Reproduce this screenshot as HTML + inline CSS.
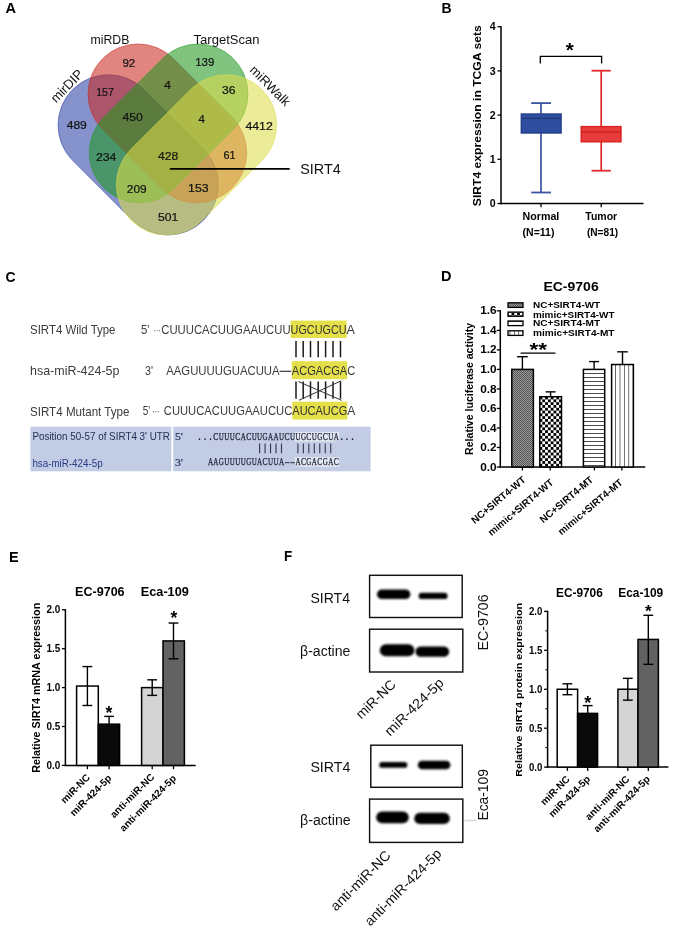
<!DOCTYPE html>
<html><head><meta charset="utf-8"><style>
html,body{margin:0;padding:0;background:#fff;}
svg{display:block;will-change:transform;}
</style></head><body>
<svg width="673" height="929" viewBox="0 0 673 929" font-family="Liberation Sans, sans-serif">
<rect width="673" height="929" fill="#fff"/>
<text x="5.50" y="13.20" font-size="14.5" font-family="Liberation Sans" font-weight="bold">A</text>
<text x="441.40" y="12.50" font-size="14" font-family="Liberation Sans" font-weight="bold">B</text>
<text x="5.40" y="281.60" font-size="14" font-family="Liberation Sans" font-weight="bold">C</text>
<text x="441.10" y="281.30" font-size="14.5" font-family="Liberation Sans" font-weight="bold">D</text>
<text x="8.90" y="561.50" font-size="14.5" font-family="Liberation Sans" font-weight="bold">E</text>
<text x="284.10" y="561.00" font-size="14.5" font-family="Liberation Sans" font-weight="bold" textLength="8.20" lengthAdjust="spacingAndGlyphs">F</text>
<rect x="-92.50" y="-50.30" width="185.00" height="100.60" rx="50.3" ry="50.3" transform="translate(138.15 154.85) rotate(45)" fill="rgb(41,64,164)" fill-opacity="0.57" stroke="rgb(41,64,164)" stroke-opacity="0.57" stroke-width="0.9"/>
<rect x="-91.50" y="-50.00" width="183.00" height="100.00" rx="50.0" ry="50.0" transform="translate(167.35 123.35) rotate(45)" fill="rgb(201,41,32)" fill-opacity="0.57" stroke="rgb(201,41,32)" stroke-opacity="0.57" stroke-width="0.9"/>
<rect x="-91.50" y="-50.00" width="183.00" height="100.00" rx="50.0" ry="50.0" transform="translate(168.65 123.35) rotate(-45)" fill="rgb(32,151,32)" fill-opacity="0.57" stroke="rgb(32,151,32)" stroke-opacity="0.57" stroke-width="0.9"/>
<rect x="-92.50" y="-50.30" width="185.00" height="100.60" rx="50.3" ry="50.3" transform="translate(196.5 154.85) rotate(-45)" fill="rgb(220,220,74)" fill-opacity="0.57" stroke="rgb(220,220,74)" stroke-opacity="0.57" stroke-width="0.9"/>
<text x="122.40" y="66.90" font-size="11.6" font-family="Liberation Sans" fill="#111" textLength="12.90" lengthAdjust="spacingAndGlyphs" stroke="#111" stroke-width="0.2">92</text>
<text x="96.20" y="95.50" font-size="11.6" font-family="Liberation Sans" fill="#111" textLength="17.70" lengthAdjust="spacingAndGlyphs" stroke="#111" stroke-width="0.2">157</text>
<text x="66.70" y="129.40" font-size="11.6" font-family="Liberation Sans" fill="#111" textLength="20.10" lengthAdjust="spacingAndGlyphs" stroke="#111" stroke-width="0.2">489</text>
<text x="122.40" y="121.30" font-size="11.6" font-family="Liberation Sans" fill="#111" textLength="20.40" lengthAdjust="spacingAndGlyphs" stroke="#111" stroke-width="0.2">450</text>
<text x="195.20" y="66.10" font-size="11.6" font-family="Liberation Sans" fill="#111" textLength="19.10" lengthAdjust="spacingAndGlyphs" stroke="#111" stroke-width="0.2">139</text>
<text x="164.10" y="88.70" font-size="11.6" font-family="Liberation Sans" fill="#111" textLength="7.00" lengthAdjust="spacingAndGlyphs" stroke="#111" stroke-width="0.2">4</text>
<text x="222.00" y="93.50" font-size="11.6" font-family="Liberation Sans" fill="#111" textLength="13.50" lengthAdjust="spacingAndGlyphs" stroke="#111" stroke-width="0.2">36</text>
<text x="198.60" y="123.40" font-size="11.6" font-family="Liberation Sans" fill="#111" textLength="6.40" lengthAdjust="spacingAndGlyphs" stroke="#111" stroke-width="0.2">4</text>
<text x="245.40" y="129.60" font-size="11.6" font-family="Liberation Sans" fill="#111" textLength="27.40" lengthAdjust="spacingAndGlyphs" stroke="#111" stroke-width="0.2">4412</text>
<text x="157.90" y="159.80" font-size="11.6" font-family="Liberation Sans" fill="#111" textLength="20.30" lengthAdjust="spacingAndGlyphs" stroke="#111" stroke-width="0.2">428</text>
<text x="223.40" y="159.30" font-size="11.6" font-family="Liberation Sans" fill="#111" textLength="12.10" lengthAdjust="spacingAndGlyphs" stroke="#111" stroke-width="0.2">61</text>
<text x="188.10" y="192.30" font-size="11.6" font-family="Liberation Sans" fill="#111" textLength="20.60" lengthAdjust="spacingAndGlyphs" stroke="#111" stroke-width="0.2">153</text>
<text x="157.90" y="220.50" font-size="11.6" font-family="Liberation Sans" fill="#111" textLength="20.30" lengthAdjust="spacingAndGlyphs" stroke="#111" stroke-width="0.2">501</text>
<text x="95.90" y="161.00" font-size="11.6" font-family="Liberation Sans" fill="#111" textLength="20.50" lengthAdjust="spacingAndGlyphs" stroke="#111" stroke-width="0.2">234</text>
<text x="126.80" y="192.60" font-size="11.6" font-family="Liberation Sans" fill="#111" textLength="19.80" lengthAdjust="spacingAndGlyphs" stroke="#111" stroke-width="0.2">209</text>
<text x="90.60" y="43.70" font-size="12.2" font-family="Liberation Sans" fill="#111" textLength="38.80" lengthAdjust="spacingAndGlyphs">miRDB</text>
<text x="193.60" y="43.70" font-size="12.2" font-family="Liberation Sans" fill="#111" textLength="66.00" lengthAdjust="spacingAndGlyphs">TargetScan</text>
<text x="56.20" y="103.60" font-size="13.4" font-family="Liberation Sans" fill="#111" textLength="40.00" lengthAdjust="spacingAndGlyphs" transform="rotate(-46 56.20 103.60)">mirDIP</text>
<text x="249.00" y="70.80" font-size="13.0" font-family="Liberation Sans" fill="#111" textLength="51.00" lengthAdjust="spacingAndGlyphs" transform="rotate(45 249.00 70.80)">miRWalk</text>
<line x1="169.80" y1="168.90" x2="289.70" y2="168.90" stroke="#000" stroke-width="1.6"/>
<text x="300.30" y="174.30" font-size="14.8" font-family="Liberation Sans" fill="#111" textLength="40.40" lengthAdjust="spacingAndGlyphs">SIRT4</text>
<line x1="501.00" y1="26.00" x2="501.00" y2="204.20" stroke="#000" stroke-width="1.5"/>
<line x1="500.30" y1="203.50" x2="643.50" y2="203.50" stroke="#000" stroke-width="1.5"/>
<line x1="497.50" y1="203.50" x2="501.00" y2="203.50" stroke="#000" stroke-width="1.3"/>
<text x="495.60" y="207.10" font-size="10.6" font-family="Liberation Sans" font-weight="bold" text-anchor="end">0</text>
<line x1="497.50" y1="159.30" x2="501.00" y2="159.30" stroke="#000" stroke-width="1.3"/>
<text x="495.60" y="162.90" font-size="10.6" font-family="Liberation Sans" font-weight="bold" text-anchor="end">1</text>
<line x1="497.50" y1="115.10" x2="501.00" y2="115.10" stroke="#000" stroke-width="1.3"/>
<text x="495.60" y="118.70" font-size="10.6" font-family="Liberation Sans" font-weight="bold" text-anchor="end">2</text>
<line x1="497.50" y1="70.90" x2="501.00" y2="70.90" stroke="#000" stroke-width="1.3"/>
<text x="495.60" y="74.50" font-size="10.6" font-family="Liberation Sans" font-weight="bold" text-anchor="end">3</text>
<line x1="497.50" y1="26.70" x2="501.00" y2="26.70" stroke="#000" stroke-width="1.3"/>
<text x="495.60" y="30.30" font-size="10.6" font-family="Liberation Sans" font-weight="bold" text-anchor="end">4</text>
<line x1="541.00" y1="203.50" x2="541.00" y2="207.30" stroke="#000" stroke-width="1.3"/>
<line x1="601.20" y1="203.50" x2="601.20" y2="207.30" stroke="#000" stroke-width="1.3"/>
<line x1="541.00" y1="103.10" x2="541.00" y2="192.50" stroke="#3a55a0" stroke-width="1.7"/>
<line x1="531.20" y1="103.10" x2="551.00" y2="103.10" stroke="#3a55a0" stroke-width="1.8"/>
<line x1="531.20" y1="192.50" x2="551.00" y2="192.50" stroke="#3a55a0" stroke-width="1.8"/>
<rect x="521.30" y="114.00" width="39.80" height="19.00" fill="#2e4d9e" stroke="#243f8c" stroke-width="1.4"/>
<line x1="521.30" y1="118.30" x2="561.10" y2="118.30" stroke="#22387a" stroke-width="1.2"/>
<line x1="601.20" y1="70.70" x2="601.20" y2="170.70" stroke="#e02a2a" stroke-width="1.7"/>
<line x1="591.50" y1="70.70" x2="610.80" y2="70.70" stroke="#e02a2a" stroke-width="1.8"/>
<line x1="591.50" y1="170.70" x2="610.80" y2="170.70" stroke="#e02a2a" stroke-width="1.8"/>
<rect x="581.20" y="126.60" width="39.80" height="15.20" fill="#e83b3b" stroke="#dc2222" stroke-width="1.4"/>
<line x1="581.20" y1="132.10" x2="621.00" y2="132.10" stroke="#c82020" stroke-width="1.2"/>
<polyline points="540.3,63.6 540.3,56.4 601.6,56.4 601.6,63.6" fill="none" stroke="#000" stroke-width="1.3"/>
<text x="569.80" y="57.00" font-size="20.5" font-family="Liberation Sans" font-weight="bold" text-anchor="middle">*</text>
<text x="481.00" y="115.70" font-size="11" font-family="Liberation Sans" font-weight="bold" text-anchor="middle" textLength="181.00" lengthAdjust="spacingAndGlyphs" transform="rotate(-90 481.00 115.70)">SIRT4 expression in TCGA sets</text>
<text x="522.60" y="220.10" font-size="10.8" font-family="Liberation Sans" font-weight="bold" textLength="36.70" lengthAdjust="spacingAndGlyphs">Normal</text>
<text x="522.60" y="235.80" font-size="10.8" font-family="Liberation Sans" font-weight="bold" textLength="31.80" lengthAdjust="spacingAndGlyphs">(N=11)</text>
<text x="585.30" y="220.10" font-size="10.8" font-family="Liberation Sans" font-weight="bold" textLength="31.90" lengthAdjust="spacingAndGlyphs">Tumor</text>
<text x="586.90" y="235.80" font-size="10.8" font-family="Liberation Sans" font-weight="bold" textLength="31.30" lengthAdjust="spacingAndGlyphs">(N=81)</text>
<text x="30.00" y="334.00" font-size="13.2" font-family="Liberation Sans" fill="#3c3c3c" textLength="85.50" lengthAdjust="spacingAndGlyphs">SIRT4 Wild Type</text>
<text x="30.00" y="374.60" font-size="13.2" font-family="Liberation Sans" fill="#3c3c3c" textLength="89.50" lengthAdjust="spacingAndGlyphs">hsa-miR-424-5p</text>
<text x="30.00" y="415.60" font-size="13.2" font-family="Liberation Sans" fill="#3c3c3c" textLength="99.50" lengthAdjust="spacingAndGlyphs">SIRT4 Mutant Type</text>
<rect x="290.60" y="320.60" width="56.00" height="17.40" fill="#e5e04a"/>
<rect x="291.80" y="361.20" width="55.40" height="18.00" fill="#e5e04a"/>
<rect x="292.30" y="401.70" width="55.00" height="17.80" fill="#e5e04a"/>
<text x="140.90" y="333.60" font-size="12.9" font-family="Liberation Sans" fill="#3c3c3c" textLength="8.50" lengthAdjust="spacingAndGlyphs">5'</text>
<text x="153.80" y="333.60" font-size="12.9" font-family="Liberation Sans" fill="#3c3c3c" textLength="6.80" lengthAdjust="spacingAndGlyphs">···</text>
<text x="161.30" y="333.60" font-size="12.9" font-family="Liberation Sans" fill="#3c3c3c" textLength="129.30" lengthAdjust="spacingAndGlyphs">CUUUCACUUGAAUCUU</text>
<text x="290.60" y="333.60" font-size="12.9" font-family="Liberation Sans" fill="#333" textLength="56.00" lengthAdjust="spacingAndGlyphs">UGCUGCU</text>
<text x="346.60" y="333.60" font-size="12.9" font-family="Liberation Sans" fill="#3c3c3c" textLength="8.40" lengthAdjust="spacingAndGlyphs">A</text>
<text x="145.00" y="374.70" font-size="12.9" font-family="Liberation Sans" fill="#3c3c3c" textLength="8.00" lengthAdjust="spacingAndGlyphs">3'</text>
<text x="166.20" y="374.70" font-size="12.9" font-family="Liberation Sans" fill="#3c3c3c" textLength="113.40" lengthAdjust="spacingAndGlyphs">AAGUUUUGUACUUA</text>
<line x1="279.60" y1="371.30" x2="291.40" y2="371.30" stroke="#3a3a3a" stroke-width="1.2"/>
<text x="291.80" y="374.70" font-size="12.9" font-family="Liberation Sans" fill="#333" textLength="55.40" lengthAdjust="spacingAndGlyphs">ACGACGA</text>
<text x="347.20" y="374.70" font-size="12.9" font-family="Liberation Sans" fill="#3c3c3c" textLength="8.00" lengthAdjust="spacingAndGlyphs">C</text>
<text x="142.80" y="415.30" font-size="12.9" font-family="Liberation Sans" fill="#3c3c3c" textLength="7.50" lengthAdjust="spacingAndGlyphs">5'</text>
<text x="151.90" y="415.30" font-size="12.9" font-family="Liberation Sans" fill="#3c3c3c" textLength="7.70" lengthAdjust="spacingAndGlyphs">···</text>
<text x="163.80" y="415.30" font-size="12.9" font-family="Liberation Sans" fill="#3c3c3c" textLength="128.50" lengthAdjust="spacingAndGlyphs">CUUUCACUUGAAUCUC</text>
<text x="292.30" y="415.30" font-size="12.9" font-family="Liberation Sans" fill="#333" textLength="55.00" lengthAdjust="spacingAndGlyphs">AUCAUCG</text>
<text x="347.30" y="415.30" font-size="12.9" font-family="Liberation Sans" fill="#3c3c3c" textLength="8.00" lengthAdjust="spacingAndGlyphs">A</text>
<line x1="296.00" y1="341.00" x2="296.00" y2="357.30" stroke="#1a1a1a" stroke-width="1.5"/>
<line x1="296.00" y1="381.40" x2="296.00" y2="398.70" stroke="#1a1a1a" stroke-width="1.5"/>
<line x1="303.20" y1="341.00" x2="303.20" y2="357.30" stroke="#1a1a1a" stroke-width="1.5"/>
<line x1="303.20" y1="381.40" x2="303.20" y2="398.70" stroke="#1a1a1a" stroke-width="1.5"/>
<line x1="310.50" y1="341.00" x2="310.50" y2="357.30" stroke="#1a1a1a" stroke-width="1.5"/>
<line x1="310.50" y1="381.40" x2="310.50" y2="398.70" stroke="#1a1a1a" stroke-width="1.5"/>
<line x1="318.20" y1="341.00" x2="318.20" y2="357.30" stroke="#1a1a1a" stroke-width="1.5"/>
<line x1="318.20" y1="381.40" x2="318.20" y2="398.70" stroke="#1a1a1a" stroke-width="1.5"/>
<line x1="325.60" y1="341.00" x2="325.60" y2="357.30" stroke="#1a1a1a" stroke-width="1.5"/>
<line x1="325.60" y1="381.40" x2="325.60" y2="398.70" stroke="#1a1a1a" stroke-width="1.5"/>
<line x1="333.00" y1="341.00" x2="333.00" y2="357.30" stroke="#1a1a1a" stroke-width="1.5"/>
<line x1="333.00" y1="381.40" x2="333.00" y2="398.70" stroke="#1a1a1a" stroke-width="1.5"/>
<line x1="340.50" y1="341.00" x2="340.50" y2="357.30" stroke="#1a1a1a" stroke-width="1.5"/>
<line x1="340.50" y1="381.40" x2="340.50" y2="398.70" stroke="#1a1a1a" stroke-width="1.5"/>
<line x1="298.50" y1="381.60" x2="341.70" y2="400.30" stroke="#333" stroke-width="1.0"/>
<line x1="299.00" y1="400.30" x2="341.20" y2="380.80" stroke="#333" stroke-width="1.0"/>
<rect x="30.40" y="426.70" width="141.00" height="44.60" fill="#c2cce4"/>
<rect x="173.20" y="426.70" width="197.40" height="44.60" fill="#c2cce4"/>
<text x="32.40" y="439.60" font-size="11.3" font-family="Liberation Sans" fill="#262f55" textLength="137.60" lengthAdjust="spacingAndGlyphs">Position 50-57 of SIRT4 3' UTR</text>
<text x="32.40" y="467.30" font-size="11.3" font-family="Liberation Sans" fill="#2a3a85" textLength="70.20" lengthAdjust="spacingAndGlyphs">hsa-miR-424-5p</text>
<text x="175.00" y="440.00" font-size="10.5" font-family="Liberation Serif" fill="#262f55" textLength="8.00" lengthAdjust="spacingAndGlyphs" stroke="#262f55" stroke-width="0.2">5'</text>
<text x="175.00" y="465.50" font-size="10.5" font-family="Liberation Serif" fill="#262f55" textLength="8.00" lengthAdjust="spacingAndGlyphs" stroke="#262f55" stroke-width="0.2">3'</text>
<rect x="294.86" y="432.00" width="44.26" height="9.50" fill="#e4e8f2"/>
<rect x="294.86" y="457.20" width="44.26" height="9.50" fill="#e4e8f2"/>
<text x="199.44" y="440.20" font-size="10" font-family="Liberation Serif" fill="#1c1f33" text-anchor="middle" font-weight="bold">.</text>
<text x="204.91" y="440.20" font-size="10" font-family="Liberation Serif" fill="#1c1f33" text-anchor="middle" font-weight="bold">.</text>
<text x="210.38" y="440.20" font-size="10" font-family="Liberation Serif" fill="#1c1f33" text-anchor="middle" font-weight="bold">.</text>
<text x="213.36" y="440.20" font-size="9.6" font-family="Liberation Serif" fill="#1c1f33" textLength="5.07" lengthAdjust="spacingAndGlyphs" stroke="#1c1f33" stroke-width="0.25">C</text>
<text x="218.83" y="440.20" font-size="9.6" font-family="Liberation Serif" fill="#1c1f33" textLength="5.07" lengthAdjust="spacingAndGlyphs" stroke="#1c1f33" stroke-width="0.25">U</text>
<text x="224.30" y="440.20" font-size="9.6" font-family="Liberation Serif" fill="#1c1f33" textLength="5.07" lengthAdjust="spacingAndGlyphs" stroke="#1c1f33" stroke-width="0.25">U</text>
<text x="229.77" y="440.20" font-size="9.6" font-family="Liberation Serif" fill="#1c1f33" textLength="5.07" lengthAdjust="spacingAndGlyphs" stroke="#1c1f33" stroke-width="0.25">U</text>
<text x="235.24" y="440.20" font-size="9.6" font-family="Liberation Serif" fill="#1c1f33" textLength="5.07" lengthAdjust="spacingAndGlyphs" stroke="#1c1f33" stroke-width="0.25">C</text>
<text x="240.71" y="440.20" font-size="9.6" font-family="Liberation Serif" fill="#1c1f33" textLength="5.07" lengthAdjust="spacingAndGlyphs" stroke="#1c1f33" stroke-width="0.25">A</text>
<text x="246.18" y="440.20" font-size="9.6" font-family="Liberation Serif" fill="#1c1f33" textLength="5.07" lengthAdjust="spacingAndGlyphs" stroke="#1c1f33" stroke-width="0.25">C</text>
<text x="251.65" y="440.20" font-size="9.6" font-family="Liberation Serif" fill="#1c1f33" textLength="5.07" lengthAdjust="spacingAndGlyphs" stroke="#1c1f33" stroke-width="0.25">U</text>
<text x="257.12" y="440.20" font-size="9.6" font-family="Liberation Serif" fill="#1c1f33" textLength="5.07" lengthAdjust="spacingAndGlyphs" stroke="#1c1f33" stroke-width="0.25">U</text>
<text x="262.59" y="440.20" font-size="9.6" font-family="Liberation Serif" fill="#1c1f33" textLength="5.07" lengthAdjust="spacingAndGlyphs" stroke="#1c1f33" stroke-width="0.25">G</text>
<text x="268.06" y="440.20" font-size="9.6" font-family="Liberation Serif" fill="#1c1f33" textLength="5.07" lengthAdjust="spacingAndGlyphs" stroke="#1c1f33" stroke-width="0.25">A</text>
<text x="273.53" y="440.20" font-size="9.6" font-family="Liberation Serif" fill="#1c1f33" textLength="5.07" lengthAdjust="spacingAndGlyphs" stroke="#1c1f33" stroke-width="0.25">A</text>
<text x="279.00" y="440.20" font-size="9.6" font-family="Liberation Serif" fill="#1c1f33" textLength="5.07" lengthAdjust="spacingAndGlyphs" stroke="#1c1f33" stroke-width="0.25">U</text>
<text x="284.47" y="440.20" font-size="9.6" font-family="Liberation Serif" fill="#1c1f33" textLength="5.07" lengthAdjust="spacingAndGlyphs" stroke="#1c1f33" stroke-width="0.25">C</text>
<text x="289.94" y="440.20" font-size="9.6" font-family="Liberation Serif" fill="#1c1f33" textLength="5.07" lengthAdjust="spacingAndGlyphs" stroke="#1c1f33" stroke-width="0.25">U</text>
<text x="295.41" y="440.20" font-size="9.6" font-family="Liberation Serif" fill="#1c1f33" textLength="5.07" lengthAdjust="spacingAndGlyphs" stroke="#1c1f33" stroke-width="0.25">U</text>
<text x="300.88" y="440.20" font-size="9.6" font-family="Liberation Serif" fill="#1c1f33" textLength="5.07" lengthAdjust="spacingAndGlyphs" stroke="#1c1f33" stroke-width="0.25">G</text>
<text x="306.35" y="440.20" font-size="9.6" font-family="Liberation Serif" fill="#1c1f33" textLength="5.07" lengthAdjust="spacingAndGlyphs" stroke="#1c1f33" stroke-width="0.25">C</text>
<text x="311.82" y="440.20" font-size="9.6" font-family="Liberation Serif" fill="#1c1f33" textLength="5.07" lengthAdjust="spacingAndGlyphs" stroke="#1c1f33" stroke-width="0.25">U</text>
<text x="317.29" y="440.20" font-size="9.6" font-family="Liberation Serif" fill="#1c1f33" textLength="5.07" lengthAdjust="spacingAndGlyphs" stroke="#1c1f33" stroke-width="0.25">G</text>
<text x="322.76" y="440.20" font-size="9.6" font-family="Liberation Serif" fill="#1c1f33" textLength="5.07" lengthAdjust="spacingAndGlyphs" stroke="#1c1f33" stroke-width="0.25">C</text>
<text x="328.23" y="440.20" font-size="9.6" font-family="Liberation Serif" fill="#1c1f33" textLength="5.07" lengthAdjust="spacingAndGlyphs" stroke="#1c1f33" stroke-width="0.25">U</text>
<text x="333.70" y="440.20" font-size="9.6" font-family="Liberation Serif" fill="#1c1f33" textLength="5.07" lengthAdjust="spacingAndGlyphs" stroke="#1c1f33" stroke-width="0.25">A</text>
<text x="341.65" y="440.20" font-size="10" font-family="Liberation Serif" fill="#1c1f33" text-anchor="middle" font-weight="bold">.</text>
<text x="347.12" y="440.20" font-size="10" font-family="Liberation Serif" fill="#1c1f33" text-anchor="middle" font-weight="bold">.</text>
<text x="352.60" y="440.20" font-size="10" font-family="Liberation Serif" fill="#1c1f33" text-anchor="middle" font-weight="bold">.</text>
<text x="207.89" y="465.30" font-size="9.6" font-family="Liberation Serif" fill="#1c1f33" textLength="5.07" lengthAdjust="spacingAndGlyphs" stroke="#1c1f33" stroke-width="0.25">A</text>
<text x="213.36" y="465.30" font-size="9.6" font-family="Liberation Serif" fill="#1c1f33" textLength="5.07" lengthAdjust="spacingAndGlyphs" stroke="#1c1f33" stroke-width="0.25">A</text>
<text x="218.83" y="465.30" font-size="9.6" font-family="Liberation Serif" fill="#1c1f33" textLength="5.07" lengthAdjust="spacingAndGlyphs" stroke="#1c1f33" stroke-width="0.25">G</text>
<text x="224.30" y="465.30" font-size="9.6" font-family="Liberation Serif" fill="#1c1f33" textLength="5.07" lengthAdjust="spacingAndGlyphs" stroke="#1c1f33" stroke-width="0.25">U</text>
<text x="229.77" y="465.30" font-size="9.6" font-family="Liberation Serif" fill="#1c1f33" textLength="5.07" lengthAdjust="spacingAndGlyphs" stroke="#1c1f33" stroke-width="0.25">U</text>
<text x="235.24" y="465.30" font-size="9.6" font-family="Liberation Serif" fill="#1c1f33" textLength="5.07" lengthAdjust="spacingAndGlyphs" stroke="#1c1f33" stroke-width="0.25">U</text>
<text x="240.71" y="465.30" font-size="9.6" font-family="Liberation Serif" fill="#1c1f33" textLength="5.07" lengthAdjust="spacingAndGlyphs" stroke="#1c1f33" stroke-width="0.25">U</text>
<text x="246.18" y="465.30" font-size="9.6" font-family="Liberation Serif" fill="#1c1f33" textLength="5.07" lengthAdjust="spacingAndGlyphs" stroke="#1c1f33" stroke-width="0.25">G</text>
<text x="251.65" y="465.30" font-size="9.6" font-family="Liberation Serif" fill="#1c1f33" textLength="5.07" lengthAdjust="spacingAndGlyphs" stroke="#1c1f33" stroke-width="0.25">U</text>
<text x="257.12" y="465.30" font-size="9.6" font-family="Liberation Serif" fill="#1c1f33" textLength="5.07" lengthAdjust="spacingAndGlyphs" stroke="#1c1f33" stroke-width="0.25">A</text>
<text x="262.59" y="465.30" font-size="9.6" font-family="Liberation Serif" fill="#1c1f33" textLength="5.07" lengthAdjust="spacingAndGlyphs" stroke="#1c1f33" stroke-width="0.25">C</text>
<text x="268.06" y="465.30" font-size="9.6" font-family="Liberation Serif" fill="#1c1f33" textLength="5.07" lengthAdjust="spacingAndGlyphs" stroke="#1c1f33" stroke-width="0.25">U</text>
<text x="273.53" y="465.30" font-size="9.6" font-family="Liberation Serif" fill="#1c1f33" textLength="5.07" lengthAdjust="spacingAndGlyphs" stroke="#1c1f33" stroke-width="0.25">U</text>
<text x="279.00" y="465.30" font-size="9.6" font-family="Liberation Serif" fill="#1c1f33" textLength="5.07" lengthAdjust="spacingAndGlyphs" stroke="#1c1f33" stroke-width="0.25">A</text>
<line x1="284.82" y1="462.70" x2="289.49" y2="462.70" stroke="#1c1f33" stroke-width="0.9"/>
<line x1="290.29" y1="462.70" x2="294.96" y2="462.70" stroke="#1c1f33" stroke-width="0.9"/>
<text x="295.41" y="465.30" font-size="9.6" font-family="Liberation Serif" fill="#1c1f33" textLength="5.07" lengthAdjust="spacingAndGlyphs" stroke="#1c1f33" stroke-width="0.25">A</text>
<text x="300.88" y="465.30" font-size="9.6" font-family="Liberation Serif" fill="#1c1f33" textLength="5.07" lengthAdjust="spacingAndGlyphs" stroke="#1c1f33" stroke-width="0.25">C</text>
<text x="306.35" y="465.30" font-size="9.6" font-family="Liberation Serif" fill="#1c1f33" textLength="5.07" lengthAdjust="spacingAndGlyphs" stroke="#1c1f33" stroke-width="0.25">G</text>
<text x="311.82" y="465.30" font-size="9.6" font-family="Liberation Serif" fill="#1c1f33" textLength="5.07" lengthAdjust="spacingAndGlyphs" stroke="#1c1f33" stroke-width="0.25">A</text>
<text x="317.29" y="465.30" font-size="9.6" font-family="Liberation Serif" fill="#1c1f33" textLength="5.07" lengthAdjust="spacingAndGlyphs" stroke="#1c1f33" stroke-width="0.25">C</text>
<text x="322.76" y="465.30" font-size="9.6" font-family="Liberation Serif" fill="#1c1f33" textLength="5.07" lengthAdjust="spacingAndGlyphs" stroke="#1c1f33" stroke-width="0.25">G</text>
<text x="328.23" y="465.30" font-size="9.6" font-family="Liberation Serif" fill="#1c1f33" textLength="5.07" lengthAdjust="spacingAndGlyphs" stroke="#1c1f33" stroke-width="0.25">A</text>
<text x="333.70" y="465.30" font-size="9.6" font-family="Liberation Serif" fill="#1c1f33" textLength="5.07" lengthAdjust="spacingAndGlyphs" stroke="#1c1f33" stroke-width="0.25">C</text>
<line x1="259.61" y1="443.50" x2="259.61" y2="453.20" stroke="#2e3550" stroke-width="1.1"/>
<line x1="265.07" y1="443.50" x2="265.07" y2="453.20" stroke="#2e3550" stroke-width="1.1"/>
<line x1="270.55" y1="443.50" x2="270.55" y2="453.20" stroke="#2e3550" stroke-width="1.1"/>
<line x1="276.01" y1="443.50" x2="276.01" y2="453.20" stroke="#2e3550" stroke-width="1.1"/>
<line x1="281.49" y1="443.50" x2="281.49" y2="453.20" stroke="#2e3550" stroke-width="1.1"/>
<line x1="297.89" y1="443.50" x2="297.89" y2="453.20" stroke="#2e3550" stroke-width="1.1"/>
<line x1="303.37" y1="443.50" x2="303.37" y2="453.20" stroke="#2e3550" stroke-width="1.1"/>
<line x1="308.83" y1="443.50" x2="308.83" y2="453.20" stroke="#2e3550" stroke-width="1.1"/>
<line x1="314.31" y1="443.50" x2="314.31" y2="453.20" stroke="#2e3550" stroke-width="1.1"/>
<line x1="319.77" y1="443.50" x2="319.77" y2="453.20" stroke="#2e3550" stroke-width="1.1"/>
<line x1="325.25" y1="443.50" x2="325.25" y2="453.20" stroke="#2e3550" stroke-width="1.1"/>
<line x1="330.72" y1="443.50" x2="330.72" y2="453.20" stroke="#2e3550" stroke-width="1.1"/>
<text x="543.40" y="290.50" font-size="12" font-family="Liberation Sans" font-weight="bold" textLength="55.30" lengthAdjust="spacingAndGlyphs">EC-9706</text>
<line x1="500.30" y1="310.14" x2="500.30" y2="467.70" stroke="#000" stroke-width="1.5"/>
<line x1="499.60" y1="467.00" x2="645.20" y2="467.00" stroke="#000" stroke-width="1.5"/>
<line x1="496.80" y1="467.00" x2="500.30" y2="467.00" stroke="#000" stroke-width="1.3"/>
<text x="496.60" y="470.60" font-size="10.3" font-family="Liberation Sans" font-weight="bold" text-anchor="end" textLength="16.40" lengthAdjust="spacingAndGlyphs">0.0</text>
<line x1="496.80" y1="447.48" x2="500.30" y2="447.48" stroke="#000" stroke-width="1.3"/>
<text x="496.60" y="451.08" font-size="10.3" font-family="Liberation Sans" font-weight="bold" text-anchor="end" textLength="16.40" lengthAdjust="spacingAndGlyphs">0.2</text>
<line x1="496.80" y1="427.96" x2="500.30" y2="427.96" stroke="#000" stroke-width="1.3"/>
<text x="496.60" y="431.56" font-size="10.3" font-family="Liberation Sans" font-weight="bold" text-anchor="end" textLength="16.40" lengthAdjust="spacingAndGlyphs">0.4</text>
<line x1="496.80" y1="408.44" x2="500.30" y2="408.44" stroke="#000" stroke-width="1.3"/>
<text x="496.60" y="412.04" font-size="10.3" font-family="Liberation Sans" font-weight="bold" text-anchor="end" textLength="16.40" lengthAdjust="spacingAndGlyphs">0.6</text>
<line x1="496.80" y1="388.92" x2="500.30" y2="388.92" stroke="#000" stroke-width="1.3"/>
<text x="496.60" y="392.52" font-size="10.3" font-family="Liberation Sans" font-weight="bold" text-anchor="end" textLength="16.40" lengthAdjust="spacingAndGlyphs">0.8</text>
<line x1="496.80" y1="369.40" x2="500.30" y2="369.40" stroke="#000" stroke-width="1.3"/>
<text x="496.60" y="373.00" font-size="10.3" font-family="Liberation Sans" font-weight="bold" text-anchor="end" textLength="16.40" lengthAdjust="spacingAndGlyphs">1.0</text>
<line x1="496.80" y1="349.88" x2="500.30" y2="349.88" stroke="#000" stroke-width="1.3"/>
<text x="496.60" y="353.48" font-size="10.3" font-family="Liberation Sans" font-weight="bold" text-anchor="end" textLength="16.40" lengthAdjust="spacingAndGlyphs">1.2</text>
<line x1="496.80" y1="330.36" x2="500.30" y2="330.36" stroke="#000" stroke-width="1.3"/>
<text x="496.60" y="333.96" font-size="10.3" font-family="Liberation Sans" font-weight="bold" text-anchor="end" textLength="16.40" lengthAdjust="spacingAndGlyphs">1.4</text>
<line x1="496.80" y1="310.84" x2="500.30" y2="310.84" stroke="#000" stroke-width="1.3"/>
<text x="496.60" y="314.44" font-size="10.3" font-family="Liberation Sans" font-weight="bold" text-anchor="end" textLength="16.40" lengthAdjust="spacingAndGlyphs">1.6</text>
<line x1="522.40" y1="467.00" x2="522.40" y2="470.50" stroke="#000" stroke-width="1.3"/>
<line x1="550.20" y1="467.00" x2="550.20" y2="470.50" stroke="#000" stroke-width="1.3"/>
<line x1="594.40" y1="467.00" x2="594.40" y2="470.50" stroke="#000" stroke-width="1.3"/>
<line x1="621.90" y1="467.00" x2="621.90" y2="470.50" stroke="#000" stroke-width="1.3"/>
<defs>
<pattern id="pFine" width="2" height="2" patternUnits="userSpaceOnUse"><rect width="2" height="2" fill="#9a9a9a"/><rect width="1" height="1" fill="#555"/><rect x="1" y="1" width="1" height="1" fill="#555"/></pattern>
<pattern id="pChk" width="5.6" height="5.6" patternUnits="userSpaceOnUse" x="539.5" y="396.6"><rect width="5.6" height="5.6" fill="#fff"/><rect width="2.8" height="2.8" fill="#000"/><rect x="2.8" y="2.8" width="2.8" height="2.8" fill="#000"/></pattern>
<pattern id="pH" width="10" height="4" patternUnits="userSpaceOnUse" y="370"><rect width="10" height="4" fill="#fff"/><rect y="3" width="10" height="1" fill="#4a4a4a"/></pattern>
<pattern id="pV" width="4.4" height="10" patternUnits="userSpaceOnUse" x="611.6"><rect width="4.4" height="10" fill="#fff"/><rect x="3.6" width="1.1" height="10" fill="#4a4a4a"/></pattern>
<filter id="blur1" x="-30%" y="-100%" width="160%" height="300%"><feGaussianBlur stdDeviation="1.2"/></filter>
<filter id="blur2" x="-30%" y="-100%" width="160%" height="300%"><feGaussianBlur stdDeviation="0.8"/></filter>
</defs>
<rect x="511.80" y="369.40" width="21.60" height="97.60" fill="url(#pFine)" stroke="#000" stroke-width="1.5"/>
<rect x="539.80" y="396.73" width="21.70" height="70.27" fill="url(#pChk)" stroke="#000" stroke-width="1.5"/>
<rect x="583.40" y="369.40" width="21.30" height="97.60" fill="url(#pH)" stroke="#000" stroke-width="1.5"/>
<rect x="611.60" y="364.52" width="21.80" height="102.48" fill="url(#pV)" stroke="#000" stroke-width="1.5"/>
<line x1="522.40" y1="369.40" x2="522.40" y2="356.71" stroke="#000" stroke-width="1.4"/>
<line x1="517.10" y1="356.71" x2="527.70" y2="356.71" stroke="#000" stroke-width="1.4"/>
<line x1="550.60" y1="396.73" x2="550.60" y2="391.85" stroke="#000" stroke-width="1.4"/>
<line x1="545.60" y1="391.85" x2="555.60" y2="391.85" stroke="#000" stroke-width="1.4"/>
<line x1="594.10" y1="369.40" x2="594.10" y2="361.59" stroke="#000" stroke-width="1.4"/>
<line x1="589.10" y1="361.59" x2="599.10" y2="361.59" stroke="#000" stroke-width="1.4"/>
<line x1="622.50" y1="364.52" x2="622.50" y2="351.83" stroke="#000" stroke-width="1.4"/>
<line x1="617.20" y1="351.83" x2="627.80" y2="351.83" stroke="#000" stroke-width="1.4"/>
<line x1="520.60" y1="353.10" x2="555.50" y2="353.10" stroke="#000" stroke-width="1.3"/>
<text x="529.50" y="355.60" font-size="18" font-family="Liberation Sans" font-weight="bold" textLength="17.50" lengthAdjust="spacingAndGlyphs">**</text>
<rect x="508.00" y="302.80" width="15.00" height="4.60" fill="url(#pFine)" stroke="#000" stroke-width="1.3"/>
<text x="533.00" y="308.20" font-size="8.9" font-family="Liberation Sans" font-weight="bold" textLength="67.20" lengthAdjust="spacingAndGlyphs">NC+SIRT4-WT</text>
<rect x="508.00" y="312.10" width="15.00" height="4.20" fill="url(#pChk)" stroke="#000" stroke-width="1.3"/>
<text x="533.00" y="317.50" font-size="8.9" font-family="Liberation Sans" font-weight="bold" textLength="81.50" lengthAdjust="spacingAndGlyphs">mimic+SIRT4-WT</text>
<rect x="508.00" y="321.00" width="15.00" height="4.60" fill="url(#pH)" stroke="#000" stroke-width="1.3"/>
<text x="533.00" y="326.40" font-size="8.9" font-family="Liberation Sans" font-weight="bold" textLength="67.20" lengthAdjust="spacingAndGlyphs">NC+SIRT4-MT</text>
<rect x="508.00" y="330.80" width="15.00" height="4.60" fill="url(#pV)" stroke="#000" stroke-width="1.3"/>
<text x="533.00" y="335.80" font-size="8.9" font-family="Liberation Sans" font-weight="bold" textLength="81.50" lengthAdjust="spacingAndGlyphs">mimic+SIRT4-MT</text>
<text x="473.00" y="388.90" font-size="11.8" font-family="Liberation Sans" font-weight="bold" text-anchor="middle" textLength="132.00" lengthAdjust="spacingAndGlyphs" transform="rotate(-90 473.00 388.90)">Relative luciferase activity</text>
<text x="526.50" y="480.80" font-size="10" font-family="Liberation Sans" font-weight="bold" text-anchor="end" transform="rotate(-40 526.50 480.80)">NC+SIRT4-WT</text>
<text x="554.20" y="483.50" font-size="10" font-family="Liberation Sans" font-weight="bold" text-anchor="end" transform="rotate(-40 554.20 483.50)">mimic+SIRT4-WT</text>
<text x="594.00" y="480.80" font-size="10" font-family="Liberation Sans" font-weight="bold" text-anchor="end" transform="rotate(-40 594.00 480.80)">NC+SIRT4-MT</text>
<text x="623.50" y="483.50" font-size="10" font-family="Liberation Sans" font-weight="bold" text-anchor="end" transform="rotate(-40 623.50 483.50)">mimic+SIRT4-MT</text>
<text x="75.10" y="596.10" font-size="12.2" font-family="Liberation Sans" font-weight="bold" textLength="49.50" lengthAdjust="spacingAndGlyphs">EC-9706</text>
<text x="140.80" y="596.10" font-size="12.2" font-family="Liberation Sans" font-weight="bold" textLength="48.00" lengthAdjust="spacingAndGlyphs">Eca-109</text>
<line x1="65.40" y1="609.10" x2="65.40" y2="766.10" stroke="#000" stroke-width="1.5"/>
<line x1="64.70" y1="765.40" x2="195.70" y2="765.40" stroke="#000" stroke-width="1.5"/>
<line x1="61.90" y1="765.40" x2="65.40" y2="765.40" stroke="#000" stroke-width="1.3"/>
<text x="60.30" y="768.90" font-size="10.0" font-family="Liberation Sans" font-weight="bold" text-anchor="end" textLength="13.80" lengthAdjust="spacingAndGlyphs">0.0</text>
<line x1="61.90" y1="726.50" x2="65.40" y2="726.50" stroke="#000" stroke-width="1.3"/>
<text x="60.30" y="730.00" font-size="10.0" font-family="Liberation Sans" font-weight="bold" text-anchor="end" textLength="13.80" lengthAdjust="spacingAndGlyphs">0.5</text>
<line x1="61.90" y1="687.60" x2="65.40" y2="687.60" stroke="#000" stroke-width="1.3"/>
<text x="60.30" y="691.10" font-size="10.0" font-family="Liberation Sans" font-weight="bold" text-anchor="end" textLength="13.80" lengthAdjust="spacingAndGlyphs">1.0</text>
<line x1="61.90" y1="648.70" x2="65.40" y2="648.70" stroke="#000" stroke-width="1.3"/>
<text x="60.30" y="652.20" font-size="10.0" font-family="Liberation Sans" font-weight="bold" text-anchor="end" textLength="13.80" lengthAdjust="spacingAndGlyphs">1.5</text>
<line x1="61.90" y1="609.80" x2="65.40" y2="609.80" stroke="#000" stroke-width="1.3"/>
<text x="60.30" y="613.30" font-size="10.0" font-family="Liberation Sans" font-weight="bold" text-anchor="end" textLength="13.80" lengthAdjust="spacingAndGlyphs">2.0</text>
<line x1="87.40" y1="765.40" x2="87.40" y2="769.20" stroke="#000" stroke-width="1.3"/>
<line x1="109.10" y1="765.40" x2="109.10" y2="769.20" stroke="#000" stroke-width="1.3"/>
<line x1="152.20" y1="765.40" x2="152.20" y2="769.20" stroke="#000" stroke-width="1.3"/>
<line x1="173.50" y1="765.40" x2="173.50" y2="769.20" stroke="#000" stroke-width="1.3"/>
<rect x="76.60" y="686.04" width="21.70" height="79.36" fill="#fff" stroke="#000" stroke-width="1.5"/>
<rect x="98.30" y="724.17" width="21.30" height="41.23" fill="#0a0a0a" stroke="#000" stroke-width="1.5"/>
<rect x="141.60" y="687.60" width="21.40" height="77.80" fill="#d4d4d4" stroke="#000" stroke-width="1.5"/>
<rect x="163.00" y="640.92" width="21.40" height="124.48" fill="#626262" stroke="#000" stroke-width="1.5"/>
<line x1="87.40" y1="705.49" x2="87.40" y2="666.59" stroke="#000" stroke-width="1.4"/>
<line x1="82.50" y1="666.59" x2="92.30" y2="666.59" stroke="#000" stroke-width="1.4"/>
<line x1="82.50" y1="705.49" x2="92.30" y2="705.49" stroke="#000" stroke-width="1.4"/>
<line x1="109.10" y1="724.17" x2="109.10" y2="716.39" stroke="#000" stroke-width="1.4"/>
<line x1="104.20" y1="716.39" x2="113.90" y2="716.39" stroke="#000" stroke-width="1.4"/>
<line x1="152.20" y1="695.38" x2="152.20" y2="679.82" stroke="#000" stroke-width="1.4"/>
<line x1="147.30" y1="679.82" x2="157.10" y2="679.82" stroke="#000" stroke-width="1.4"/>
<line x1="147.30" y1="695.38" x2="157.10" y2="695.38" stroke="#000" stroke-width="1.4"/>
<line x1="173.50" y1="658.81" x2="173.50" y2="623.03" stroke="#000" stroke-width="1.4"/>
<line x1="168.60" y1="623.03" x2="178.40" y2="623.03" stroke="#000" stroke-width="1.4"/>
<line x1="168.60" y1="658.81" x2="178.40" y2="658.81" stroke="#000" stroke-width="1.4"/>
<text x="108.80" y="718.60" font-size="17.5" font-family="Liberation Sans" font-weight="bold" text-anchor="middle">*</text>
<text x="173.80" y="623.70" font-size="17.5" font-family="Liberation Sans" font-weight="bold" text-anchor="middle">*</text>
<text x="39.80" y="687.80" font-size="10.6" font-family="Liberation Sans" font-weight="bold" text-anchor="middle" textLength="170.00" lengthAdjust="spacingAndGlyphs" transform="rotate(-90 39.80 687.80)">Relative SIRT4 mRNA expression</text>
<text x="90.60" y="778.10" font-size="10" font-family="Liberation Sans" font-weight="bold" text-anchor="end" transform="rotate(-45 90.60 778.10)">miR-NC</text>
<text x="112.20" y="778.70" font-size="10" font-family="Liberation Sans" font-weight="bold" text-anchor="end" transform="rotate(-45 112.20 778.70)">miR-424-5p</text>
<text x="155.00" y="777.60" font-size="10" font-family="Liberation Sans" font-weight="bold" text-anchor="end" transform="rotate(-45 155.00 777.60)">anti-miR-NC</text>
<text x="176.80" y="779.00" font-size="10" font-family="Liberation Sans" font-weight="bold" text-anchor="end" transform="rotate(-45 176.80 779.00)">anti-miR-424-5p</text>
<rect x="369.60" y="575.30" width="92.60" height="42.20" fill="#fff" stroke="#111" stroke-width="1.45"/>
<rect x="369.60" y="629.20" width="93.20" height="42.80" fill="#fff" stroke="#111" stroke-width="1.45"/>
<rect x="377.00" y="589.50" width="33.40" height="9.60" rx="4.80" fill="#000" fill-opacity="1.0" filter="url(#blur2)"/>
<rect x="418.60" y="592.70" width="29.00" height="6.40" rx="3.20" fill="#000" fill-opacity="1.0" filter="url(#blur2)"/>
<rect x="379.80" y="644.20" width="34.60" height="12.00" rx="6.00" fill="#000" fill-opacity="1.0" filter="url(#blur2)"/>
<rect x="415.40" y="646.40" width="33.80" height="10.40" rx="5.20" fill="#000" fill-opacity="1.0" filter="url(#blur2)"/>
<rect x="370.80" y="745.20" width="91.50" height="42.10" fill="#fff" stroke="#111" stroke-width="1.45"/>
<rect x="369.60" y="799.10" width="93.20" height="43.30" fill="#fff" stroke="#111" stroke-width="1.45"/>
<rect x="379.20" y="762.00" width="28.20" height="5.80" rx="2.90" fill="#000" fill-opacity="1.0" filter="url(#blur2)"/>
<rect x="417.80" y="760.80" width="32.60" height="8.40" rx="4.20" fill="#000" fill-opacity="1.0" filter="url(#blur2)"/>
<rect x="376.20" y="811.40" width="32.60" height="11.80" rx="5.90" fill="#000" fill-opacity="1.0" filter="url(#blur2)"/>
<rect x="414.20" y="812.80" width="35.60" height="11.20" rx="5.60" fill="#000" fill-opacity="1.0" filter="url(#blur2)"/>
<line x1="464.50" y1="820.60" x2="477.00" y2="820.20" stroke="#dcdcdc" stroke-width="1.6"/>
<text x="310.40" y="602.60" font-size="13.8" font-family="Liberation Sans" fill="#111" textLength="39.60" lengthAdjust="spacingAndGlyphs">SIRT4</text>
<text x="300.10" y="656.10" font-size="13.8" font-family="Liberation Sans" fill="#111" textLength="50.30" lengthAdjust="spacingAndGlyphs">β-actine</text>
<text x="310.40" y="771.60" font-size="13.8" font-family="Liberation Sans" fill="#111" textLength="40.00" lengthAdjust="spacingAndGlyphs">SIRT4</text>
<text x="300.10" y="825.30" font-size="13.8" font-family="Liberation Sans" fill="#111" textLength="50.50" lengthAdjust="spacingAndGlyphs">β-actine</text>
<text x="488.10" y="622.40" font-size="14.2" font-family="Liberation Sans" fill="#111" text-anchor="middle" textLength="56.20" lengthAdjust="spacingAndGlyphs" transform="rotate(-90 488.10 622.40)">EC-9706</text>
<text x="488.10" y="794.80" font-size="14.2" font-family="Liberation Sans" fill="#111" text-anchor="middle" textLength="51.50" lengthAdjust="spacingAndGlyphs" transform="rotate(-90 488.10 794.80)">Eca-109</text>
<text x="396.80" y="685.40" font-size="13.8" font-family="Liberation Sans" fill="#111" text-anchor="end" textLength="49.50" lengthAdjust="spacingAndGlyphs" transform="rotate(-44 396.80 685.40)">miR-NC</text>
<text x="444.60" y="683.90" font-size="13.8" font-family="Liberation Sans" fill="#111" text-anchor="end" textLength="76.00" lengthAdjust="spacingAndGlyphs" transform="rotate(-44 444.60 683.90)">miR-424-5p</text>
<text x="391.60" y="856.20" font-size="13.8" font-family="Liberation Sans" fill="#111" text-anchor="end" textLength="78.50" lengthAdjust="spacingAndGlyphs" transform="rotate(-45 391.60 856.20)">anti-miR-NC</text>
<text x="442.30" y="854.50" font-size="13.8" font-family="Liberation Sans" fill="#111" text-anchor="end" textLength="102.00" lengthAdjust="spacingAndGlyphs" transform="rotate(-45 442.30 854.50)">anti-miR-424-5p</text>
<text x="556.00" y="596.70" font-size="12.2" font-family="Liberation Sans" font-weight="bold" textLength="46.80" lengthAdjust="spacingAndGlyphs">EC-9706</text>
<text x="618.30" y="596.70" font-size="12.2" font-family="Liberation Sans" font-weight="bold" textLength="44.90" lengthAdjust="spacingAndGlyphs">Eca-109</text>
<line x1="547.60" y1="610.70" x2="547.60" y2="767.80" stroke="#000" stroke-width="1.5"/>
<line x1="546.90" y1="767.10" x2="668.40" y2="767.10" stroke="#000" stroke-width="1.5"/>
<line x1="544.10" y1="767.10" x2="547.60" y2="767.10" stroke="#000" stroke-width="1.3"/>
<text x="542.40" y="770.60" font-size="10.2" font-family="Liberation Sans" font-weight="bold" text-anchor="end" textLength="13.40" lengthAdjust="spacingAndGlyphs">0.0</text>
<line x1="544.10" y1="728.18" x2="547.60" y2="728.18" stroke="#000" stroke-width="1.3"/>
<text x="542.40" y="731.68" font-size="10.2" font-family="Liberation Sans" font-weight="bold" text-anchor="end" textLength="13.40" lengthAdjust="spacingAndGlyphs">0.5</text>
<line x1="544.10" y1="689.25" x2="547.60" y2="689.25" stroke="#000" stroke-width="1.3"/>
<text x="542.40" y="692.75" font-size="10.2" font-family="Liberation Sans" font-weight="bold" text-anchor="end" textLength="13.40" lengthAdjust="spacingAndGlyphs">1.0</text>
<line x1="544.10" y1="650.33" x2="547.60" y2="650.33" stroke="#000" stroke-width="1.3"/>
<text x="542.40" y="653.83" font-size="10.2" font-family="Liberation Sans" font-weight="bold" text-anchor="end" textLength="13.40" lengthAdjust="spacingAndGlyphs">1.5</text>
<line x1="544.10" y1="611.40" x2="547.60" y2="611.40" stroke="#000" stroke-width="1.3"/>
<text x="542.40" y="614.90" font-size="10.2" font-family="Liberation Sans" font-weight="bold" text-anchor="end" textLength="13.40" lengthAdjust="spacingAndGlyphs">2.0</text>
<line x1="545.40" y1="747.64" x2="547.60" y2="747.64" stroke="#000" stroke-width="1.1"/>
<line x1="545.40" y1="708.71" x2="547.60" y2="708.71" stroke="#000" stroke-width="1.1"/>
<line x1="545.40" y1="669.79" x2="547.60" y2="669.79" stroke="#000" stroke-width="1.1"/>
<line x1="545.40" y1="630.86" x2="547.60" y2="630.86" stroke="#000" stroke-width="1.1"/>
<line x1="567.40" y1="767.10" x2="567.40" y2="770.90" stroke="#000" stroke-width="1.3"/>
<line x1="587.70" y1="767.10" x2="587.70" y2="770.90" stroke="#000" stroke-width="1.3"/>
<line x1="627.80" y1="767.10" x2="627.80" y2="770.90" stroke="#000" stroke-width="1.3"/>
<line x1="648.30" y1="767.10" x2="648.30" y2="770.90" stroke="#000" stroke-width="1.3"/>
<rect x="557.20" y="689.25" width="20.40" height="77.85" fill="#fff" stroke="#000" stroke-width="1.5"/>
<rect x="577.60" y="713.38" width="20.00" height="53.72" fill="#0a0a0a" stroke="#000" stroke-width="1.5"/>
<rect x="617.90" y="689.25" width="20.10" height="77.85" fill="#d4d4d4" stroke="#000" stroke-width="1.5"/>
<rect x="638.00" y="639.43" width="20.40" height="127.67" fill="#626262" stroke="#000" stroke-width="1.5"/>
<line x1="567.40" y1="694.70" x2="567.40" y2="683.80" stroke="#000" stroke-width="1.4"/>
<line x1="562.50" y1="683.80" x2="572.30" y2="683.80" stroke="#000" stroke-width="1.4"/>
<line x1="562.50" y1="694.70" x2="572.30" y2="694.70" stroke="#000" stroke-width="1.4"/>
<line x1="587.70" y1="713.38" x2="587.70" y2="705.60" stroke="#000" stroke-width="1.4"/>
<line x1="582.80" y1="705.60" x2="592.60" y2="705.60" stroke="#000" stroke-width="1.4"/>
<line x1="627.80" y1="700.15" x2="627.80" y2="678.35" stroke="#000" stroke-width="1.4"/>
<line x1="622.90" y1="678.35" x2="632.70" y2="678.35" stroke="#000" stroke-width="1.4"/>
<line x1="622.90" y1="700.15" x2="632.70" y2="700.15" stroke="#000" stroke-width="1.4"/>
<line x1="648.30" y1="664.34" x2="648.30" y2="615.29" stroke="#000" stroke-width="1.4"/>
<line x1="643.40" y1="615.29" x2="653.20" y2="615.29" stroke="#000" stroke-width="1.4"/>
<line x1="643.40" y1="664.34" x2="653.20" y2="664.34" stroke="#000" stroke-width="1.4"/>
<text x="587.70" y="708.50" font-size="18" font-family="Liberation Sans" font-weight="bold" text-anchor="middle">*</text>
<text x="648.40" y="617.00" font-size="17.2" font-family="Liberation Sans" font-weight="bold" text-anchor="middle">*</text>
<text x="522.00" y="689.80" font-size="9.8" font-family="Liberation Sans" font-weight="bold" text-anchor="middle" textLength="173.70" lengthAdjust="spacingAndGlyphs" transform="rotate(-90 522.00 689.80)">Relative SIRT4 protein expression</text>
<text x="570.40" y="779.80" font-size="10" font-family="Liberation Sans" font-weight="bold" text-anchor="end" transform="rotate(-45 570.40 779.80)">miR-NC</text>
<text x="590.80" y="779.60" font-size="10" font-family="Liberation Sans" font-weight="bold" text-anchor="end" transform="rotate(-45 590.80 779.60)">miR-424-5p</text>
<text x="630.20" y="779.80" font-size="10" font-family="Liberation Sans" font-weight="bold" text-anchor="end" transform="rotate(-45 630.20 779.80)">anti-miR-NC</text>
<text x="650.60" y="779.80" font-size="10" font-family="Liberation Sans" font-weight="bold" text-anchor="end" transform="rotate(-45 650.60 779.80)">anti-miR-424-5p</text>
</svg>
</body></html>
